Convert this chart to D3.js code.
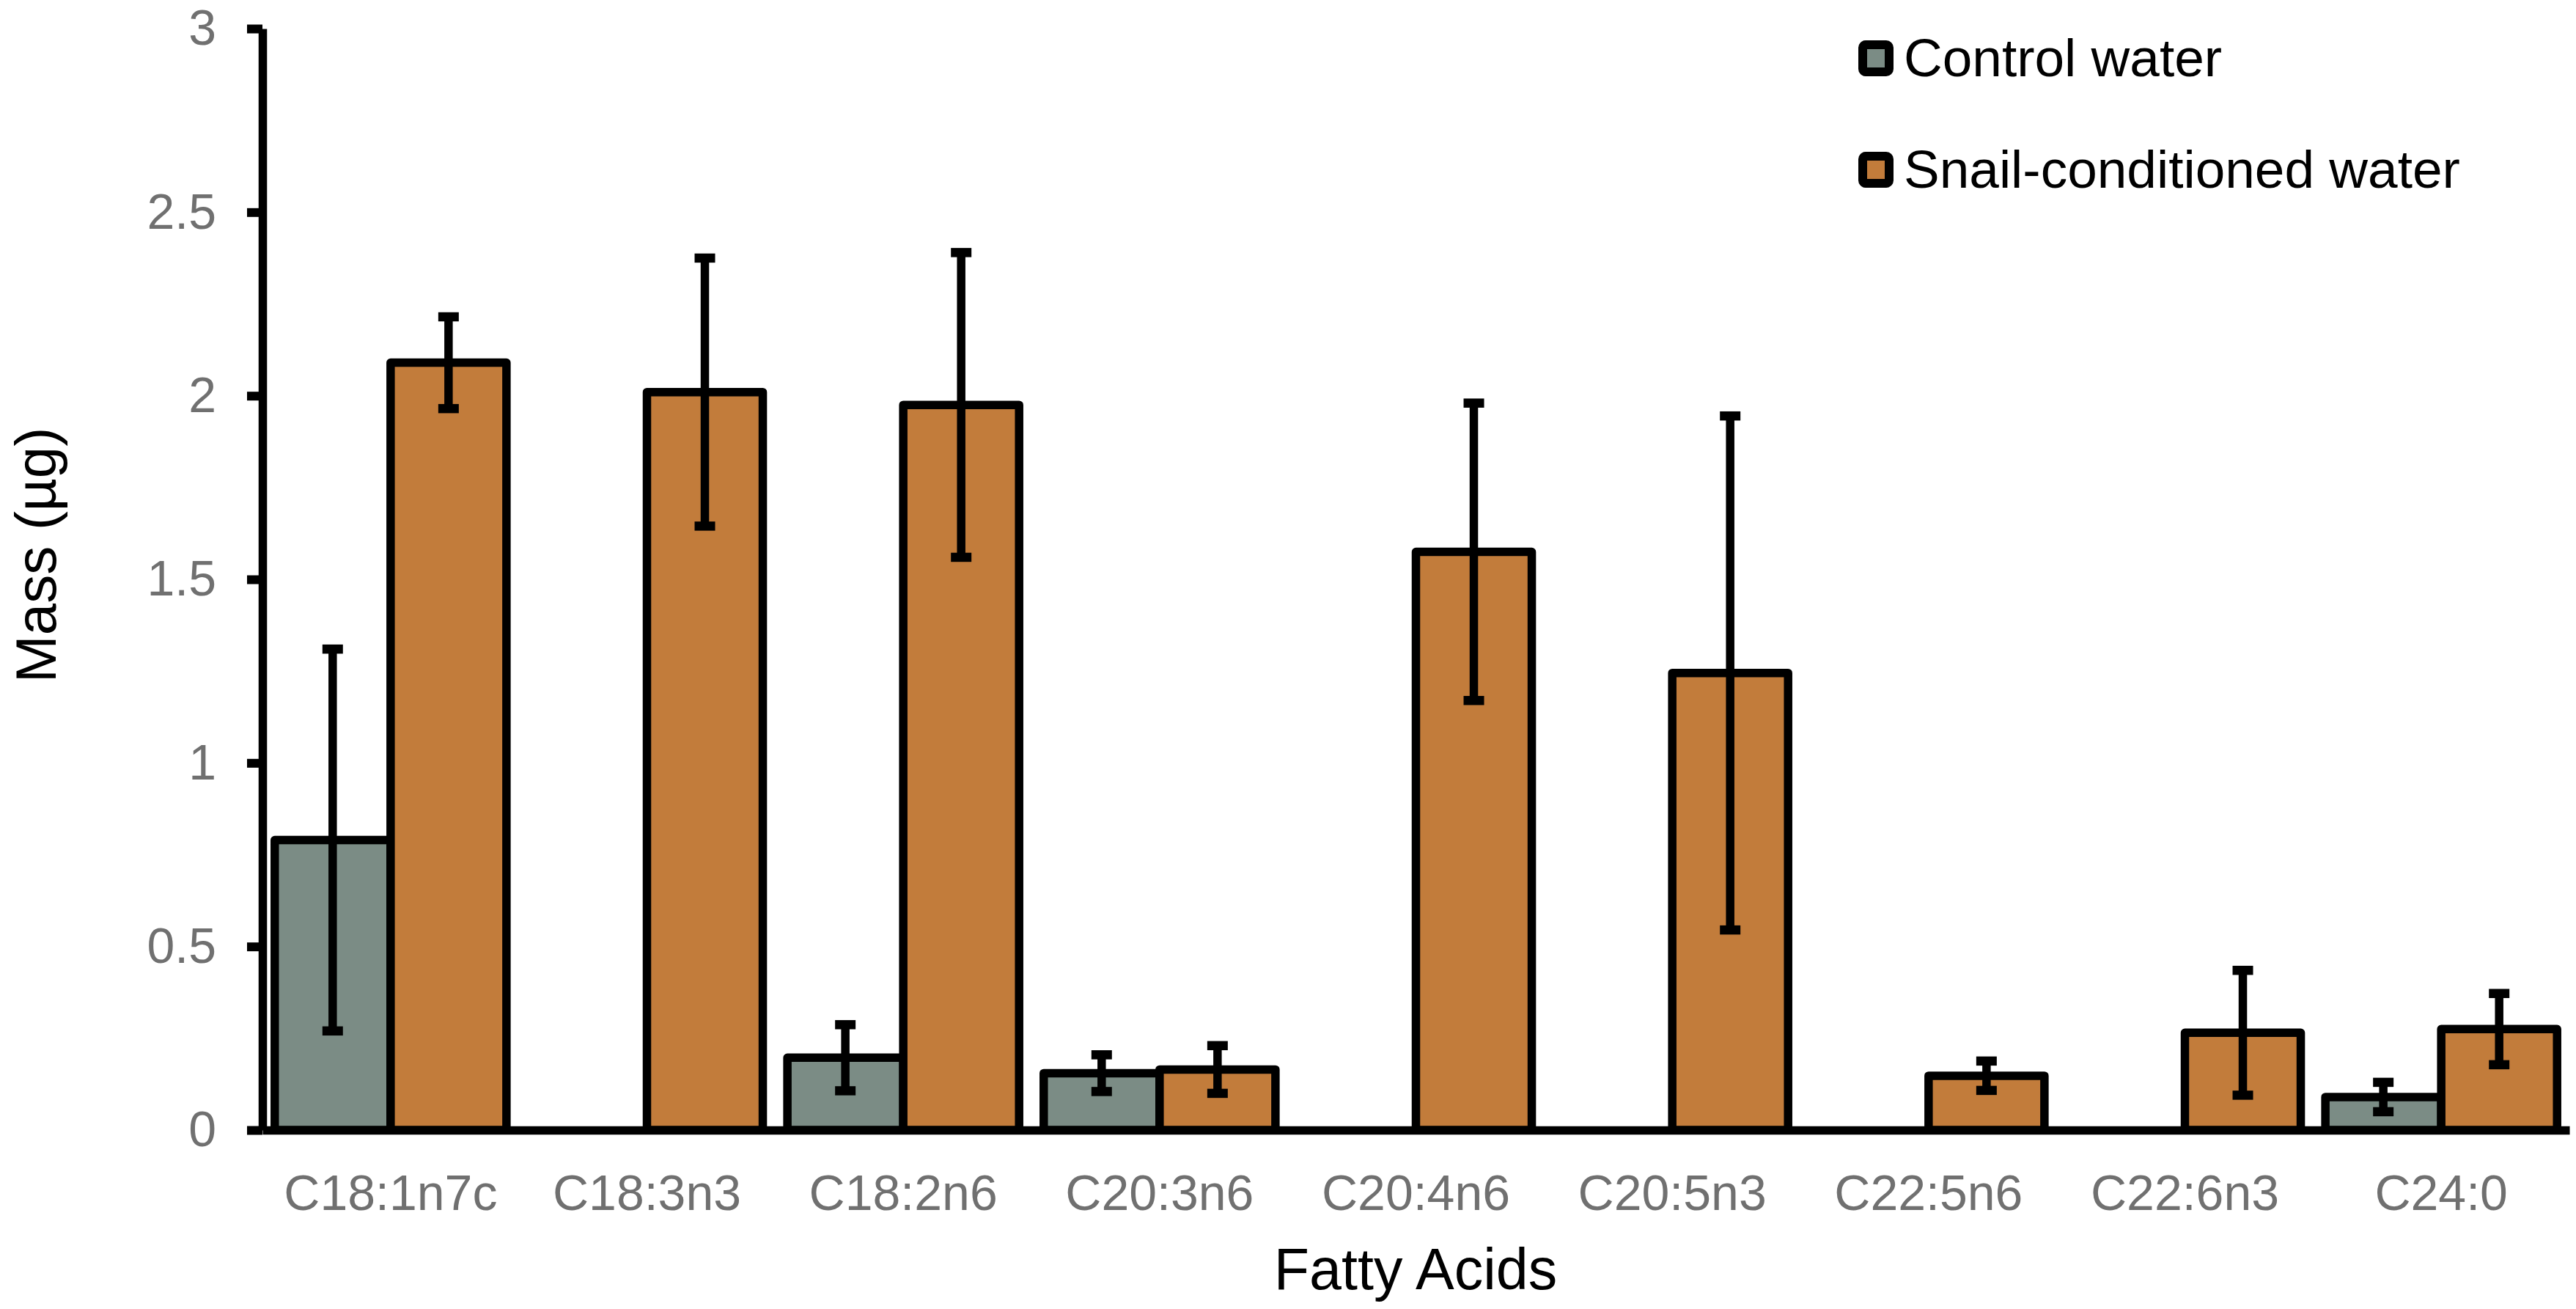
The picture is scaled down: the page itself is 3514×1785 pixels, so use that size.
<!DOCTYPE html>
<html>
<head>
<meta charset="utf-8">
<script src="https://cdn.jsdelivr.net/npm/d3@7"></script>
<style>
  html, body { margin: 0; padding: 0; background: #fff; }
  svg { display: block; }
  text { font-family: "Liberation Sans", Arial, Helvetica, sans-serif; }
</style>
</head>
<body>
<script>
// chart data
const acids = ["C18:1n7c", "C18:3n3", "C18:2n6", "C20:3n6", "C20:4n6", "C20:5n3", "C22:5n6", "C22:6n3", "C24:0"];
const seriesNames = ["Control water", "Snail-conditioned water"];
const controlMean = [0.79, 0, 0.197, 0.155, 0, 0, 0, 0, 0.09];
const controlErr  = [0.52, 0, 0.09, 0.05, 0, 0, 0, 0, 0.04];
const snailMean   = [2.09, 2.01, 1.975, 0.165, 1.575, 1.245, 0.148, 0.265, 0.275];
const snailErr    = [0.125, 0.365, 0.415, 0.065, 0.405, 0.70, 0.04, 0.17, 0.097];
const yTicks = [0, 0.5, 1, 1.5, 2, 2.5, 3];

const W = 3514, H = 1785;
const margin = {top: 39, right: 9, bottom: 244, left: 358};
const colors = ["#7b8c85", "#c27c3b"];

// build rows for the grouped bars
const rows = acids.map((a, i) => ({
  acid: a,
  vals: [
    {s: 0, mean: controlMean[i], err: controlErr[i]},
    {s: 1, mean: snailMean[i], err: snailErr[i]}
  ]
}));

const svg = d3.select("body").append("svg")
  .attr("width", W)
  .attr("height", H);

const g = svg.append("g")
  .attr("transform", "translate(" + margin.left + "," + margin.top + ")");

const width = W - margin.left - margin.right;
const height = H - margin.top - margin.bottom;

const x0 = d3.scaleBand().domain(acids).range([0, width])
  .paddingInner(0.096).paddingOuter(0.048);
const x1 = d3.scaleBand().domain([0, 1]).range([0, x0.bandwidth()]);
const y = d3.scaleLinear().domain([0, 3]).range([height, 0]);

// bars
const groups = g.selectAll(".grp").data(rows).enter().append("g")
  .attr("class", "grp")
  .attr("transform", d => "translate(" + x0(d.acid) + ",0)");

groups.selectAll("rect").data(d => d.vals).enter().append("rect")
  .attr("x", d => x1(d.s))
  .attr("y", d => y(d.mean))
  .attr("width", x1.bandwidth())
  .attr("height", d => y(0) - y(d.mean))
  .attr("fill", d => colors[d.s])
  .attr("stroke", "#000")
  .attr("stroke-width", 11.5)
  .attr("stroke-linejoin", "round");

// error bars
const capW = 28;
const eb = groups.selectAll(".err").data(d => d.vals.filter(v => v.err > 0)).enter().append("g")
  .attr("class", "err")
  .attr("stroke", "#000")
  .attr("stroke-width", 11.5);
eb.append("line")
  .attr("x1", d => x1(d.s) + x1.bandwidth() / 2)
  .attr("x2", d => x1(d.s) + x1.bandwidth() / 2)
  .attr("y1", d => y(d.mean + d.err))
  .attr("y2", d => y(d.mean - d.err));
eb.append("line")
  .attr("stroke-width", 12.5)
  .attr("x1", d => x1(d.s) + x1.bandwidth() / 2 - capW / 2)
  .attr("x2", d => x1(d.s) + x1.bandwidth() / 2 + capW / 2)
  .attr("y1", d => y(d.mean + d.err))
  .attr("y2", d => y(d.mean + d.err));
eb.append("line")
  .attr("stroke-width", 12.5)
  .attr("x1", d => x1(d.s) + x1.bandwidth() / 2 - capW / 2)
  .attr("x2", d => x1(d.s) + x1.bandwidth() / 2 + capW / 2)
  .attr("y1", d => y(d.mean - d.err))
  .attr("y2", d => y(d.mean - d.err));

// y axis
const yAxis = g.append("g")
  .call(d3.axisLeft(y).tickValues(yTicks).tickFormat(d3.format("")).tickSize(21).tickSizeOuter(0).tickPadding(42));
yAxis.select(".domain").attr("stroke", "#000").attr("stroke-width", 11.5);
yAxis.selectAll(".tick line").attr("stroke", "#000").attr("stroke-width", 12);
yAxis.selectAll(".tick text").attr("fill", "#707070").attr("font-size", 68);

// x axis
const xAxis = g.append("g")
  .attr("transform", "translate(0," + height + ")")
  .call(d3.axisBottom(x0).tickSize(0).tickSizeOuter(0).tickPadding(61));
xAxis.select(".domain").attr("stroke", "#000").attr("stroke-width", 11.5);
xAxis.selectAll(".tick text").attr("fill", "#707070").attr("font-size", 68);

// axis titles
svg.append("text")
  .attr("x", 1931)
  .attr("y", 1758)
  .attr("text-anchor", "middle")
  .attr("font-size", 79)
  .attr("fill", "#000")
  .text("Fatty Acids");

svg.append("text")
  .attr("transform", "translate(76,757) rotate(-90)")
  .attr("text-anchor", "middle")
  .attr("font-size", 78)
  .attr("fill", "#000")
  .text("Mass (µg)");

// legend
const legend = svg.append("g").attr("transform", "translate(2541,0)");
const li = legend.selectAll(".li").data(seriesNames).enter().append("g")
  .attr("class", "li")
  .attr("transform", (d, i) => "translate(0," + (61 + i * 152) + ")");
li.append("rect")
  .attr("width", 36).attr("height", 37)
  .attr("rx", 4)
  .attr("fill", (d, i) => colors[i])
  .attr("stroke", "#000")
  .attr("stroke-width", 12)
  .attr("stroke-linejoin", "round");
li.append("text")
  .attr("x", 56)
  .attr("y", 43)
  .attr("font-size", 73)
  .attr("fill", "#000")
  .text(d => d);
</script>
</body>
</html>
